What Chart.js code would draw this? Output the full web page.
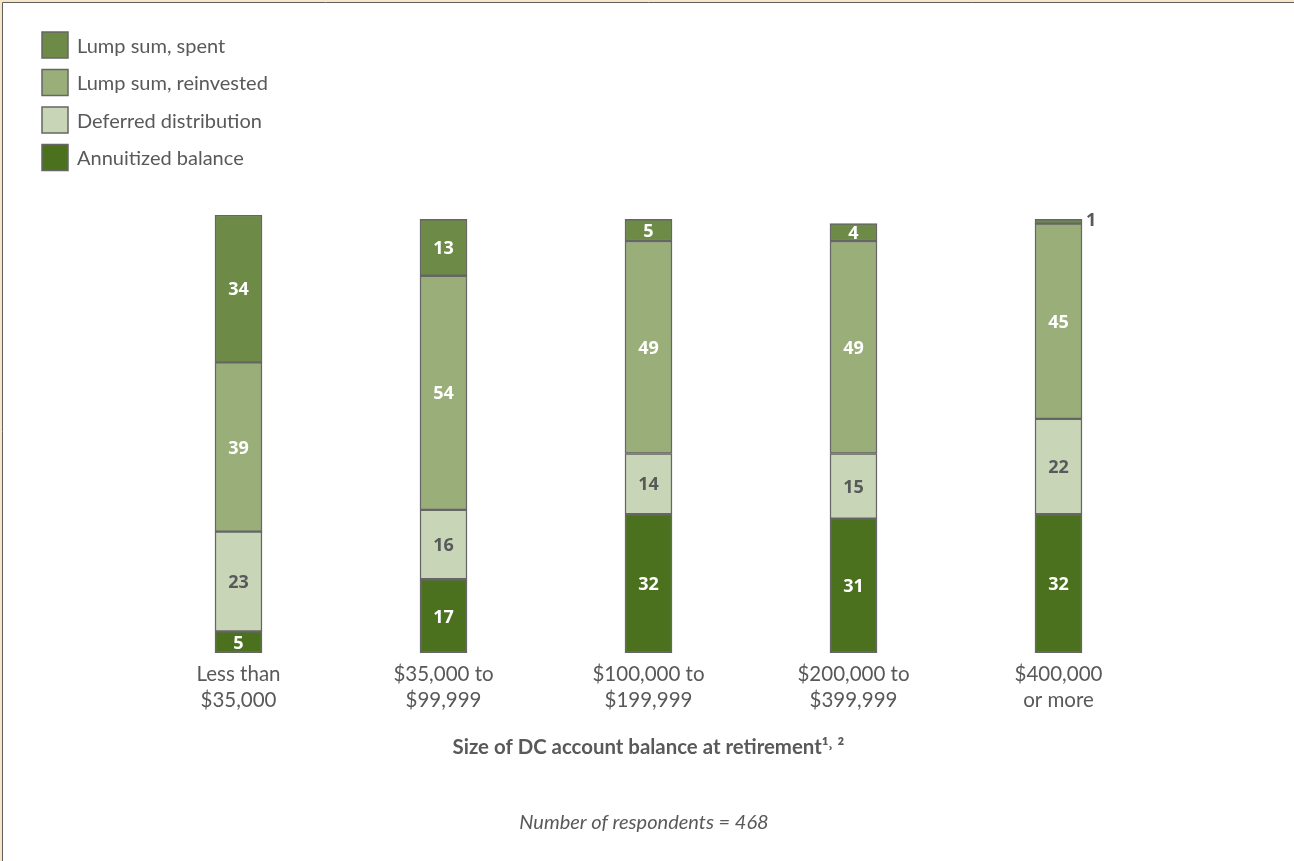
<!DOCTYPE html>
<html>
<head>
<meta charset="utf-8">
<script src="https://cdn.jsdelivr.net/npm/chart.js@4.4.1/dist/chart.umd.min.js"></script>
<style>
  html, body { margin: 0; padding: 0; background: #ffffff; }
  #wrap { position: absolute; left: 0; top: 0; width: 1294px; height: 861px; }
</style>
</head>
<body>
<div id="wrap"><canvas id="c" width="1294" height="861"></canvas></div>
<script>
const categories = [["Less than", "$35,000"], ["$35,000 to", "$99,999"], ["$100,000 to", "$199,999"], ["$200,000 to", "$399,999"], ["$400,000", "or more"]];
const annuitized = [5, 17, 32, 31, 32];
const deferred = [23, 16, 14, 15, 22];
const reinvested = [39, 54, 49, 49, 45];
const spent = [34, 13, 5, 4, 1];
const seriesNames = ["Annuitized balance", "Deferred distribution", "Lump sum, reinvested", "Lump sum, spent"];
const seriesColors = ["#4b711f", "#c8d5b6", "#9aae79", "#6d8b47"];
const labelColors = ["#ffffff", "#58595b", "#ffffff", "#ffffff"];
const axisTitle = "Size of DC account balance at retirement¹˒ ²";
const footnote = "Number of respondents = 468";

const TEXT = "#58595b";

const decorPlugin = {
  id: "decor",
  beforeDraw(chart) {
    const ctx = chart.ctx;
    ctx.save();
    ctx.fillStyle = "#f6e7c9";
    ctx.fillRect(0, 0, chart.width, chart.height);
    ctx.fillStyle = "#ffffff";
    ctx.fillRect(2, 2, chart.width - 2, chart.height - 2);
    ctx.strokeStyle = "#5f5f5f";
    ctx.lineWidth = 1;
    ctx.beginPath();
    ctx.moveTo(2.5, chart.height);
    ctx.lineTo(2.5, 2.5);
    ctx.lineTo(chart.width, 2.5);
    ctx.stroke();
    ctx.restore();
  },
  afterDraw(chart) {
    const ctx = chart.ctx;
    ctx.save();
    // Legend (top to bottom: reverse dataset order)
    const ds = chart.data.datasets;
    const order = [3, 2, 1, 0];
    order.forEach((di, k) => {
      const y = 32 + k * 37.5;
      ctx.fillStyle = ds[di].backgroundColor;
      ctx.fillRect(42, y, 26, 26);
      ctx.strokeStyle = "#666666";
      ctx.lineWidth = 1.5;
      ctx.strokeRect(42, y, 26, 26);
      ctx.fillStyle = TEXT;
      ctx.font = "20px Lato";
      ctx.textAlign = "left";
      ctx.textBaseline = "middle";
      ctx.fillText(ds[di].label, 77, y + 14.5);
    });
    // Value labels
    ds.forEach((d, di) => {
      const meta = chart.getDatasetMeta(di);
      meta.data.forEach((bar, i) => {
        const v = d.data[i];
        const top = Math.min(bar.y, bar.base), bottom = Math.max(bar.y, bar.base);
        const h = bottom - top;
        ctx.font = "bold 18px 'Open Sans'";
        ctx.textBaseline = "middle";
        if (h >= 12) {
          ctx.fillStyle = labelColors[di];
          ctx.textAlign = "center";
          ctx.fillText(String(v), bar.x, (top + bottom) / 2 + 1.5);
        } else {
          ctx.fillStyle = TEXT;
          ctx.textAlign = "left";
          ctx.fillText(String(v), bar.x + bar.width / 2 + 4, top + 2);
        }
      });
    });
    // Footnote
    ctx.fillStyle = TEXT;
    ctx.font = "italic 20px Lato";
    ctx.textAlign = "center";
    ctx.textBaseline = "middle";
    ctx.fillText(footnote, 644, 823);
    ctx.restore();
  }
};

const chart = new Chart(document.getElementById("c"), {
  type: "bar",
  data: {
    labels: categories,
    datasets: seriesNames.map((n, i) => ({
      label: n,
      data: [annuitized, deferred, reinvested, spent][i],
      backgroundColor: seriesColors[i],
      borderColor: "#666666",
      borderWidth: 1.5,
      borderSkipped: false,
      barThickness: 47
    }))
  },
  options: {
    responsive: false,
    animation: false,
    devicePixelRatio: 1,
    layout: { padding: { left: 136, right: 133, top: 215, bottom: 0 } },
    plugins: { legend: { display: false }, tooltip: { enabled: false } },
    scales: {
      x: {
        stacked: true,
        grid: { display: false, drawTicks: false },
        border: { display: false },
        ticks: { color: TEXT, font: { family: "Lato", size: 20.5, lineHeight: 1.27 }, padding: 8, maxRotation: 0 },
        title: {
          display: true,
          text: axisTitle,
          color: TEXT,
          font: { family: "Lato", size: 20.4, weight: "bold", lineHeight: 1.2 },
          padding: { top: 0, bottom: 101 }
        },
        afterFit(scale) { scale.height = 861 - 653; }
      },
      y: {
        stacked: true,
        display: false,
        min: 0,
        max: 101
      }
    }
  },
  plugins: [decorPlugin]
});
</script>
</body>
</html>
